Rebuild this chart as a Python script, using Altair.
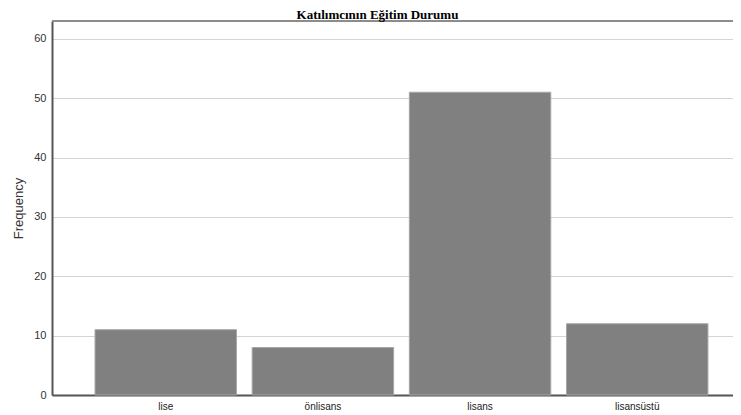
import altair as alt
import pandas as pd

categories = ["lise", "önlisans", "lisans", "lisansüstü"]
frequencies = [11, 8, 51, 12]
y_ticks = [0, 10, 20, 30, 40, 50, 60]

df = pd.DataFrame({"category": categories, "frequency": frequencies})

W, H = 681, 374

base = alt.Chart(df)

bars = base.mark_bar(color="#808080", stroke="#a6a6a6", strokeWidth=1).encode(
    x=alt.X(
        "category:N",
        sort=categories,
        scale=alt.Scale(paddingInner=0.1, paddingOuter=0.2166, align=0.632),
        axis=alt.Axis(
            title=None,
            labelAngle=0,
            ticks=False,
            labelFont="Liberation Sans",
            labelFontSize=10,
            labelColor="#222222",
            labelPadding=6,
            domainColor="#555555",
            domainWidth=2,
            grid=False,
        ),
    ),
    y=alt.Y(
        "frequency:Q",
        scale=alt.Scale(domain=[0, 63], nice=False, zero=True),
        axis=alt.Axis(
            title="Frequency",
            values=y_ticks,
            ticks=False,
            labelFont="Liberation Sans",
            labelFontSize=11,
            labelColor="#333333",
            labelPadding=6,
            titleFont="Liberation Sans",
            titleFontSize=13,
            titleFontWeight="normal",
            titleColor="#333333",
            titlePadding=8,
            domainColor="#555555",
            domainWidth=2,
            grid=True,
            gridColor="#d4d4d4",
            gridWidth=1,
        ),
    ),
)

top_line = base.mark_rule(color="#8c8c8c", strokeWidth=2).encode(y=alt.value(0))

chart = (
    alt.layer(top_line, bars)
    .properties(
        width=W,
        height=H,
        title=alt.TitleParams(
            "Katılımcının Eğitim Durumu",
            font="Liberation Serif",
            fontSize=13,
            fontWeight="bold",
            color="#000000",
            anchor="middle",
            dx=-15,
            dy=2,
            offset=0,
        ),
        autosize=alt.AutoSizeParams(type="none"),
        padding={"left": 44, "top": 13, "right": 0, "bottom": 20},
    )
    .configure_view(stroke=None)
)

chart.save("out.html", embed_options={"renderer": "svg", "actions": False})
